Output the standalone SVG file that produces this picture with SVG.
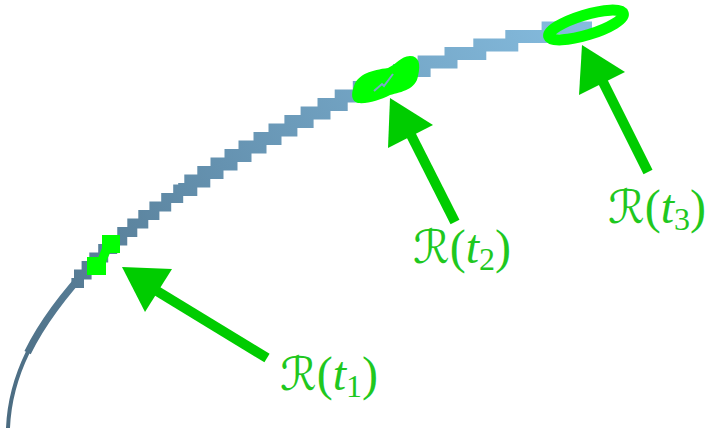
<svg xmlns="http://www.w3.org/2000/svg" width="719" height="430" viewBox="0 0 719 430">
<style>
.lbl{font-family:"Liberation Serif","DejaVu Serif",serif;font-size:48px;fill:#1fc81f}
.cal{font-family:"DejaVu Sans","Liberation Serif",serif;font-size:46px}
.it{font-style:italic}
.sub{font-size:32px}
.arrow{stroke:#00cc00;stroke-width:10;fill:none}
.head{fill:#00cc00}
.mark{fill:#00ff00}
.stair{fill:none;stroke:url(#cg);stroke-linejoin:miter;stroke-linecap:butt}
</style>
<defs>
<linearGradient id="cg" gradientUnits="userSpaceOnUse" x1="8" y1="428" x2="600" y2="22">
<stop offset="0" stop-color="#4b6b80"/>
<stop offset="0.45" stop-color="#6592b0"/>
<stop offset="1" stop-color="#86bde0"/>
</linearGradient>
</defs>
<g id="curve">
<path d="M 8 428 C 10 380, 30 330, 93 263" fill="none" stroke="url(#cg)" stroke-width="4"/>
<path d="M 27.6 352.6 C 40.75 325.75, 61.5 296.5, 93 263" fill="none" stroke="url(#cg)" stroke-width="7"/>
<path class="stair" stroke-width="10" d="M 71.4 283 H 79 V 274.5 H 86.6 V 266 H 94.3 V 257.5 H 103.2 V 249 H 112.2 V 240.5 H 122.25 V 232 H 132.3 V 223.5 H 143.3 V 215 H 154.4 V 206.5 H 166.2 V 198 H 178.2 V 189.5 H 190.8"/>
<path class="stair" stroke-width="13" d="M 178.2 189.5 H 190.8 V 181 H 203.8 V 172.5 H 217 V 164 H 231 V 155.5 H 245 V 147 H 260 V 138.5 H 275 V 130 H 290.9 V 121.5 H 307.1 V 113 H 324 V 104.5 H 341.2 V 96 H 359.3 V 87.5 H 377.9 V 79 H 399.5 V 70.5 H 424.1 V 62 H 451 V 53.5 H 479.8 V 45 H 511.8 V 36.5 H 548.1 V 28 H 592"/>
</g>
<g id="r1">
<rect class="mark" x="102" y="235" width="18" height="18"/>
<rect class="mark" x="87" y="257" width="19" height="18"/>
<polygon class="mark" points="102,248 110,253 106,262 98,258"/>
</g>
<g id="r2">
<path class="mark" d="M 354 86 C 358 74, 372 70, 388 68 C 398 63, 400 57, 410 56 C 419 56, 421 64, 418 76 C 416 89, 402 92, 390 95 C 380 100, 368 104, 358 103 C 351 101, 351 94, 354 86 Z"/>
<path d="M 374 91 L 382 84 L 384 86 L 393 74" fill="none" stroke="#7aa8c8" stroke-width="2"/>
</g>
<g id="r3">
<ellipse cx="586" cy="25" rx="39" ry="10" transform="rotate(-17 586 25)" fill="none" stroke="#00ff00" stroke-width="11"/>
</g>
<g id="connectors">
<line class="arrow" x1="267" y1="358" x2="152" y2="288"/>
<polygon class="head" points="122,267 172,269 145,312"/>
<line class="arrow" x1="455" y1="222" x2="410" y2="133"/>
<polygon class="head" points="390,98 433,125 388,148"/>
<line class="arrow" x1="648" y1="172" x2="602" y2="80"/>
<polygon class="head" points="582,45 625,72 579,95"/>
</g>
<g id="labels">
<text class="lbl" x="280" y="390"><tspan class="cal">ℛ</tspan>(<tspan class="it">t</tspan><tspan class="sub" dy="7">1</tspan><tspan dy="-7">)</tspan></text>
<text class="lbl" x="413" y="263"><tspan class="cal">ℛ</tspan>(<tspan class="it">t</tspan><tspan class="sub" dy="7">2</tspan><tspan dy="-7">)</tspan></text>
<text class="lbl" x="608" y="223"><tspan class="cal">ℛ</tspan>(<tspan class="it">t</tspan><tspan class="sub" dy="7">3</tspan><tspan dy="-7">)</tspan></text>
</g>
</svg>
